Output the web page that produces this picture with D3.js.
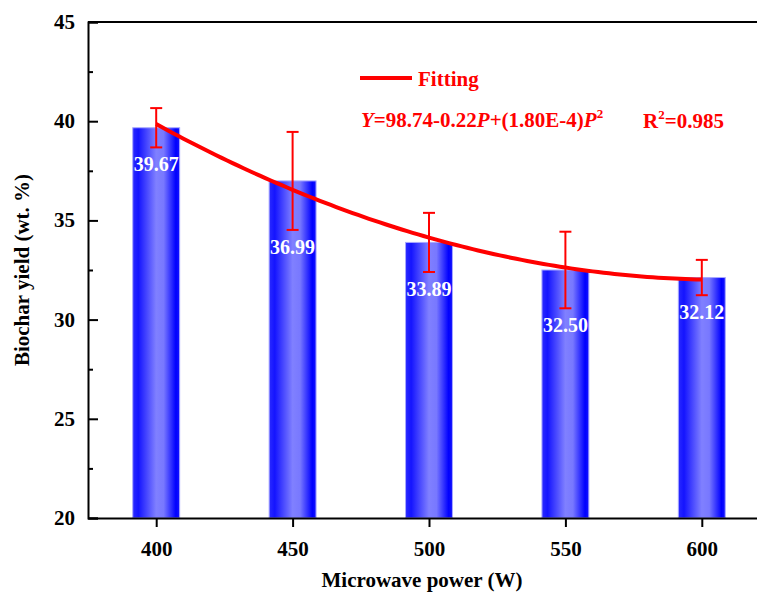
<!DOCTYPE html>
<html>
<head>
<meta charset="utf-8">
<script src="https://cdn.jsdelivr.net/npm/d3@7/dist/d3.min.js"></script>
<style>
  body { margin: 0; background: #fff; }
  svg text { font-family: "Liberation Serif", "Times New Roman", serif; font-weight: bold; }
</style>
</head>
<body>
<div id="chart"></div>
<script>
// dữ liệu
const powers = [400, 450, 500, 550, 600];
const yields = [39.67, 36.99, 33.89, 32.50, 32.12];
const errors = [0.99, 2.47, 1.49, 1.93, 0.89];
const yTicks = [20, 25, 30, 35, 40, 45];
const xTicks = [400, 450, 500, 550, 600];

const width = 757, height = 592;
const margin = { top: 22, left: 88, right: 770, bottom: 518 };
const fs = 21;

const svg = d3.select("#chart").append("svg")
  .attr("width", width)
  .attr("height", height);

const x = d3.scaleLinear().domain([375, 625]).range([margin.left, margin.right]);
const y = d3.scaleLinear().domain([20, 45]).range([margin.bottom, margin.top]);
const barHalf = 8.6; // nửa bề rộng cột, theo đơn vị W

// gradient ngang cho cột
const grad = svg.append("defs").append("linearGradient")
  .attr("id", "barGrad")
  .attr("x1", "0%").attr("x2", "100%").attr("y1", "0%").attr("y2", "0%");
[[0, "#2a2aff"], [0.12, "#1414ff"], [0.5, "#8080ff"], [0.66, "#7878ff"], [0.92, "#0000ff"], [1, "#1414ff"]]
  .forEach(([o, c]) => grad.append("stop").attr("offset", o).attr("stop-color", c));

const data = powers.map((p, i) => ({ p, v: yields[i], e: errors[i] }));

// cột
svg.selectAll(".bar")
  .data(data)
  .enter()
  .append("rect")
  .attr("class", "bar")
  .attr("x", d => x(d.p - barHalf))
  .attr("y", d => y(d.v))
  .attr("width", d => x(d.p + barHalf) - x(d.p - barHalf))
  .attr("height", d => y(20) - y(d.v))
  .attr("fill", "url(#barGrad)")
  .attr("stroke", "#a8a8ff")
  .attr("stroke-width", 1);

// đường hồi quy bậc hai (bình phương tối thiểu trên dữ liệu)
const tc = powers.map(p => (p - 500) / 50);
const meanY = d3.mean(yields);
const meanT2 = d3.mean(tc, u => u * u);
const b1 = d3.sum(tc, (t, i) => t * yields[i]) / d3.sum(tc, t => t * t);
const q = tc.map(t => t * t - meanT2);
const b2 = d3.sum(q, (s, i) => s * yields[i]) / d3.sum(q, s => s * s);
const fit = p => { const t = (p - 500) / 50; return meanY + b1 * t + b2 * (t * t - meanT2); };
const fitPts = d3.range(400, 601, 2).map(p => [p, fit(p)]);

svg.append("path")
  .datum(fitPts)
  .attr("fill", "none")
  .attr("stroke", "#ff0000")
  .attr("stroke-width", 4)
  .attr("d", d3.line().x(d => x(d[0])).y(d => y(d[1])));

// thanh sai số
const eb = svg.selectAll(".err").data(data).enter().append("g").attr("class", "err")
  .attr("stroke", "#ff0000").attr("stroke-width", 2);
eb.append("line")
  .attr("x1", d => x(d.p)).attr("x2", d => x(d.p))
  .attr("y1", d => y(d.v + d.e)).attr("y2", d => y(d.v - d.e));
eb.append("line")
  .attr("x1", d => x(d.p) - 6).attr("x2", d => x(d.p) + 6)
  .attr("y1", d => y(d.v + d.e)).attr("y2", d => y(d.v + d.e));
eb.append("line")
  .attr("x1", d => x(d.p) - 6).attr("x2", d => x(d.p) + 6)
  .attr("y1", d => y(d.v - d.e)).attr("y2", d => y(d.v - d.e));

// nhãn giá trị
svg.selectAll(".val")
  .data(data)
  .enter()
  .append("text")
  .attr("class", "val")
  .attr("x", d => x(d.p))
  .attr("y", d => y(d.v - d.e) + 24)
  .attr("text-anchor", "middle")
  .attr("fill", "#fff")
  .attr("font-size", 20)
  .text(d => d.v.toFixed(2));

// khung
svg.append("line").attr("x1", margin.left).attr("x2", margin.right)
  .attr("y1", margin.top).attr("y2", margin.top)
  .attr("stroke", "#000").attr("stroke-width", 2);

// trục Y
const yAxis = svg.append("g")
  .attr("transform", `translate(${margin.left},0)`)
  .call(d3.axisRight(y).tickValues(yTicks).tickSize(10).tickFormat(""));
yAxis.select(".domain").attr("stroke-width", 2);
yAxis.selectAll(".tick line").attr("stroke-width", 2);
svg.append("g")
  .attr("transform", `translate(${margin.left},0)`)
  .call(d3.axisRight(y).tickValues(d3.range(22.5, 45, 5)).tickSize(5).tickFormat(""))
  .call(g => g.select(".domain").remove())
  .selectAll(".tick line").attr("stroke-width", 2);
svg.selectAll(".ylab")
  .data(yTicks)
  .enter()
  .append("text")
  .attr("x", 75)
  .attr("y", d => y(d) + 7)
  .attr("text-anchor", "end")
  .attr("font-size", fs)
  .text(d => d);

// trục X
const xAxis = svg.append("g")
  .attr("transform", `translate(0,${margin.bottom})`)
  .call(d3.axisBottom(x).tickValues(xTicks).tickSize(9).tickPadding(14).tickSizeOuter(0));
xAxis.select(".domain").attr("stroke-width", 2);
xAxis.selectAll(".tick line").attr("stroke-width", 2);
xAxis.selectAll(".tick text")
  .attr("font-size", fs)
  .attr("fill", "#000");

// tiêu đề trục
svg.append("text")
  .attr("x", 422).attr("y", 587)
  .attr("text-anchor", "middle")
  .attr("font-size", fs)
  .text("Microwave power (W)");
svg.append("text")
  .attr("transform", `translate(29,${(margin.top + margin.bottom) / 2}) rotate(-90)`)
  .attr("text-anchor", "middle")
  .attr("font-size", fs)
  .text("Biochar yield (wt. %)");

// chú giải
svg.append("line").attr("x1", 360).attr("x2", 412).attr("y1", 78).attr("y2", 78)
  .attr("stroke", "#ff0000").attr("stroke-width", 4);
svg.append("text").attr("x", 418).attr("y", 86)
  .attr("fill", "#ff0000").attr("font-size", fs).text("Fitting");

const eq = svg.append("text").attr("x", 361).attr("y", 127)
  .attr("fill", "#ff0000").attr("font-size", fs);
eq.append("tspan").attr("font-style", "italic").text("Y");
eq.append("tspan").text("=98.74-0.22");
eq.append("tspan").attr("font-style", "italic").text("P");
eq.append("tspan").text("+(1.80E-4)");
eq.append("tspan").attr("font-style", "italic").text("P");
eq.append("tspan").attr("font-size", 13).attr("dy", -9).text("2");

const r2 = svg.append("text").attr("x", 643).attr("y", 128)
  .attr("fill", "#ff0000").attr("font-size", fs);
r2.append("tspan").text("R");
r2.append("tspan").attr("font-size", 13).attr("dy", -9).text("2");
r2.append("tspan").attr("dy", 9).text("=0.985");
</script>
</body>
</html>
